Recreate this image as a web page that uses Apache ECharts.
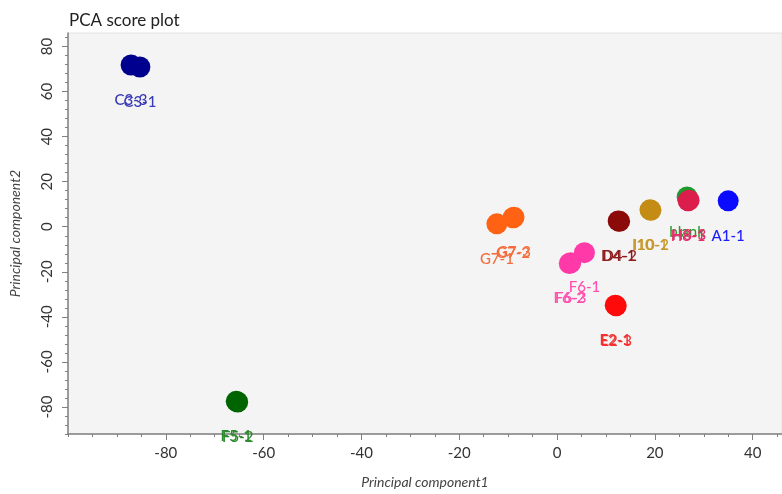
<!DOCTYPE html>
<html>
<head>
<meta charset="utf-8">
<script src="https://cdn.jsdelivr.net/npm/echarts@6/dist/echarts.min.js"></script>
<style>
  html, body { margin: 0; padding: 0; background: #fff; }
  #pcaChart { width: 782px; height: 494px; }
</style>
</head>
<body>
<div id="pcaChart"></div>
<script>
// sample groups (drawing order: later groups on top)
const groupNames = ['C3', 'F5', 'G7', 'D4', 'F6', 'E2', 'I10', 'blank', 'H8', 'A1'];
// per-sample labels, PC1 and PC2 scores
const C3_names = ['C3-1', 'C3-3'];
const C3_pc1 = [-85.3, -87.1];
const C3_pc2 = [70.9, 71.8];
const F5_names = ['F5-1', 'F5-2'];
const F5_pc1 = [-65.6, -65.3];
const F5_pc2 = [-77.5, -77.8];
const G7_names = ['G7-1', 'G7-2', 'G7-3'];
const G7_pc1 = [-12.3, -9.0, -8.8];
const G7_pc2 = [1.3, 4.0, 4.2];
const D4_names = ['D4-1', 'D4-2'];
const D4_pc1 = [12.5, 12.8];
const D4_pc2 = [2.6, 2.4];
const F6_names = ['F6-1', 'F6-2', 'F6-3'];
const F6_pc1 = [5.6, 2.5, 2.8];
const F6_pc2 = [-11.5, -16.3, -16.0];
const E2_names = ['E2-1', 'E2-3'];
const E2_pc1 = [11.9, 12.1];
const E2_pc2 = [-34.8, -35.1];
const I10_names = ['I10-1', 'I10-2'];
const I10_pc1 = [19.0, 19.2];
const I10_pc2 = [7.5, 7.3];
const blank_names = ['blank'];
const blank_pc1 = [26.6];
const blank_pc2 = [13.2];
const H8_names = ['H8-1', 'H8-3'];
const H8_pc1 = [26.8, 27.0];
const H8_pc2 = [11.5, 11.8];
const A1_names = ['A1-1'];
const A1_pc1 = [35.0];
const A1_pc2 = [11.5];

// tick labels
const xTicks = [-80, -60, -40, -20, 0, 20, 40];
const yTicks = [-80, -60, -40, -20, 0, 20, 40, 60, 80];

const groupData = {
  C3: [C3_names, C3_pc1, C3_pc2],
  F5: [F5_names, F5_pc1, F5_pc2],
  G7: [G7_names, G7_pc1, G7_pc2],
  D4: [D4_names, D4_pc1, D4_pc2],
  F6: [F6_names, F6_pc1, F6_pc2],
  E2: [E2_names, E2_pc1, E2_pc2],
  I10: [I10_names, I10_pc1, I10_pc2],
  blank: [blank_names, blank_pc1, blank_pc2],
  H8: [H8_names, H8_pc1, H8_pc2],
  A1: [A1_names, A1_pc1, A1_pc2]
};

const dotColors = {
  C3: '#00008f', F5: '#006400', G7: '#ff6212', D4: '#8b0a0a', F6: '#ff3aa8',
  E2: '#ff0a0a', I10: '#c48c14', blank: '#1c9a2c', H8: '#dc1e4c', A1: '#0a0aff'
};
const labelColors = {
  C3: '#3a3ab4', F5: '#2e8a2e', G7: '#f46c3c', D4: '#8e1c1c', F6: '#ff50b0',
  E2: '#f23232', I10: '#c8982c', blank: '#2a9a2a', H8: '#e0306a', A1: '#1c1cff'
};

const X_MIN = -100, X_MAX = 46, Y_MIN = -92, Y_MAX = 86;
const fontFam = 'Lato, "Open Sans", sans-serif';

function range(from, to, step) {
  const out = [];
  for (let v = from; v <= to + 1e-9; v += step) out.push(v);
  return out;
}
const xMinor = range(-100, 45, 5);
const yMinor = range(-92, 84, 4);

const series = groupNames.map(g => {
  const [names, xs, ys] = groupData[g];
  return {
    name: g,
    type: 'scatter',
    xAxisIndex: 0,
    yAxisIndex: 0,
    symbolSize: 21,
    itemStyle: { color: dotColors[g], opacity: 1 },
    label: {
      show: true,
      position: 'bottom',
      distance: 17,
      color: labelColors[g],
      fontFamily: fontFam,
      fontSize: 15,
      fontWeight: 500,
      formatter: p => p.data.name
    },
    labelLayout: { hideOverlap: false },
    data: names.map((n, i) => ({ name: n, value: [xs[i], ys[i]] }))
  };
});

const chart = echarts.init(document.getElementById('pcaChart'));
const option = {
  backgroundColor: '#ffffff',
  animation: false,
  title: {
    text: 'PCA score plot',
    left: 64,
    top: 7,
    textStyle: { fontFamily: fontFam, fontSize: 17, fontWeight: 'normal', color: '#222' }
  },
  grid: {
    left: 68, right: 0, top: 33, bottom: 56,
    show: true,
    backgroundColor: '#f4f4f4',
    borderColor: '#e2e2e2',
    borderWidth: 1
  },
  xAxis: [{
    type: 'value',
    min: X_MIN, max: X_MAX,
    splitLine: { show: false },
    axisLine: { show: true, onZero: false, lineStyle: { color: '#808080', width: 1.5 } },
    axisTick: { show: true, customValues: xTicks, length: 6, lineStyle: { color: '#808080' } },
    axisLabel: { customValues: xTicks, margin: 12, fontFamily: fontFam, fontSize: 15, color: '#333' },
    name: 'Principal component1',
    nameLocation: 'middle',
    nameGap: 41,
    nameTextStyle: { fontFamily: fontFam, fontSize: 14, fontStyle: 'italic', color: '#444' }
  }, {
    type: 'value',
    min: X_MIN, max: X_MAX,
    position: 'bottom',
    splitLine: { show: false },
    axisLine: { show: false, onZero: false },
    axisTick: { show: true, customValues: xMinor, length: 3, lineStyle: { color: '#808080' } },
    axisLabel: { show: false }
  }],
  yAxis: [{
    type: 'value',
    min: Y_MIN, max: Y_MAX,
    splitLine: { show: false },
    axisLine: { show: true, onZero: false, lineStyle: { color: '#808080', width: 1.5 } },
    axisTick: { show: true, customValues: yTicks, length: 6, lineStyle: { color: '#808080' } },
    axisLabel: { customValues: yTicks, rotate: 90, margin: 13, fontFamily: fontFam, fontSize: 15, color: '#333' },
    name: 'Principal component2',
    nameLocation: 'middle',
    nameGap: 46,
    nameTextStyle: { fontFamily: fontFam, fontSize: 14, fontStyle: 'italic', color: '#444' }
  }, {
    type: 'value',
    min: Y_MIN, max: Y_MAX,
    position: 'left',
    splitLine: { show: false },
    axisLine: { show: false, onZero: false },
    axisTick: { show: true, customValues: yMinor, length: 3, lineStyle: { color: '#808080' } },
    axisLabel: { show: false }
  }],
  series: series
};
option && chart.setOption(option);
window.addEventListener('resize', chart.resize);
</script>
</body>
</html>
